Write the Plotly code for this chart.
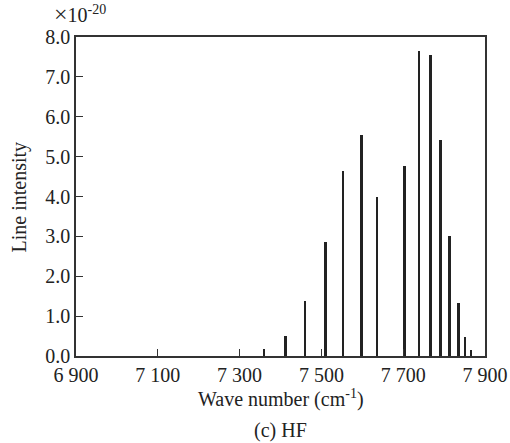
import plotly.graph_objects as go

# Data (line positions in cm^-1, intensities in 1e-20 units)
wave_numbers = [7361, 7413, 7461, 7511, 7554, 7599, 7637, 7704, 7740, 7767, 7792, 7814, 7836, 7851, 7867]
intensities = [0.18, 0.51, 1.37, 2.85, 4.63, 5.53, 4.00, 4.76, 7.66, 7.54, 5.41, 3.02, 1.32, 0.47, 0.15]

x_tick_vals = [6900, 7100, 7300, 7500, 7700, 7900]
x_tick_text = ["6 900", "7 100", "7 300", "7 500", "7 700", "7 900"]
y_tick_vals = [0, 1, 2, 3, 4, 5, 6, 7, 8]
y_tick_text = ["0.0", "1.0", "2.0", "3.0", "4.0", "5.0", "6.0", "7.0", "8.0"]

FONT = "Liberation Serif"
INK = "#222222"

fig = go.Figure()
fig.add_trace(go.Bar(
    x=wave_numbers, y=intensities, width=4.5,
    marker=dict(color=INK, line=dict(width=0)),
    showlegend=False,
))

axis_common = dict(
    showline=True, linecolor="#333333", linewidth=1.5, mirror=True,
    ticks="inside", ticklen=7, tickwidth=1.2, tickcolor="#333333",
    showgrid=False, zeroline=False, automargin=False,
    tickfont=dict(family=FONT, size=20, color=INK),
)

fig.update_layout(
    width=510, height=443,
    margin=dict(l=76, r=25, t=37, b=87),
    paper_bgcolor="white", plot_bgcolor="white",
    font=dict(family=FONT, size=20, color=INK),
    bargap=0,
    xaxis=dict(range=[6900, 7900], tickvals=x_tick_vals, ticktext=x_tick_text, **axis_common),
    yaxis=dict(range=[0, 8], tickvals=y_tick_vals, ticktext=y_tick_text, **axis_common),
    annotations=[
        dict(text="<span style='font-size:24px'>×</span>10<sup>-20</sup>", xref="paper", yref="paper",
             x=-0.058, y=1.072, xanchor="left", yanchor="middle", showarrow=False,
             font=dict(family=FONT, size=20, color=INK)),
        dict(text="Wave number (cm<sup>-1</sup>)", xref="paper", yref="paper", x=0.5, y=-0.132,
             xanchor="center", yanchor="middle", showarrow=False,
             font=dict(family=FONT, size=20, color=INK)),
        dict(text="Line intensity", xref="paper", yref="paper", x=-0.137, y=0.5, textangle=-90,
             xanchor="center", yanchor="middle", showarrow=False,
             font=dict(family=FONT, size=20, color=INK)),
        dict(text="(c) HF", xref="paper", yref="paper", x=0.5, y=-0.232,
             xanchor="center", yanchor="middle", showarrow=False,
             font=dict(family=FONT, size=20, color=INK)),
    ],
)

fig.write_html(
    "out.html",
    config={"displayModeBar": False},
    post_script="document.body.style.margin='0';document.body.style.overflow='hidden';"
                "document.documentElement.style.overflow='hidden';",
)
